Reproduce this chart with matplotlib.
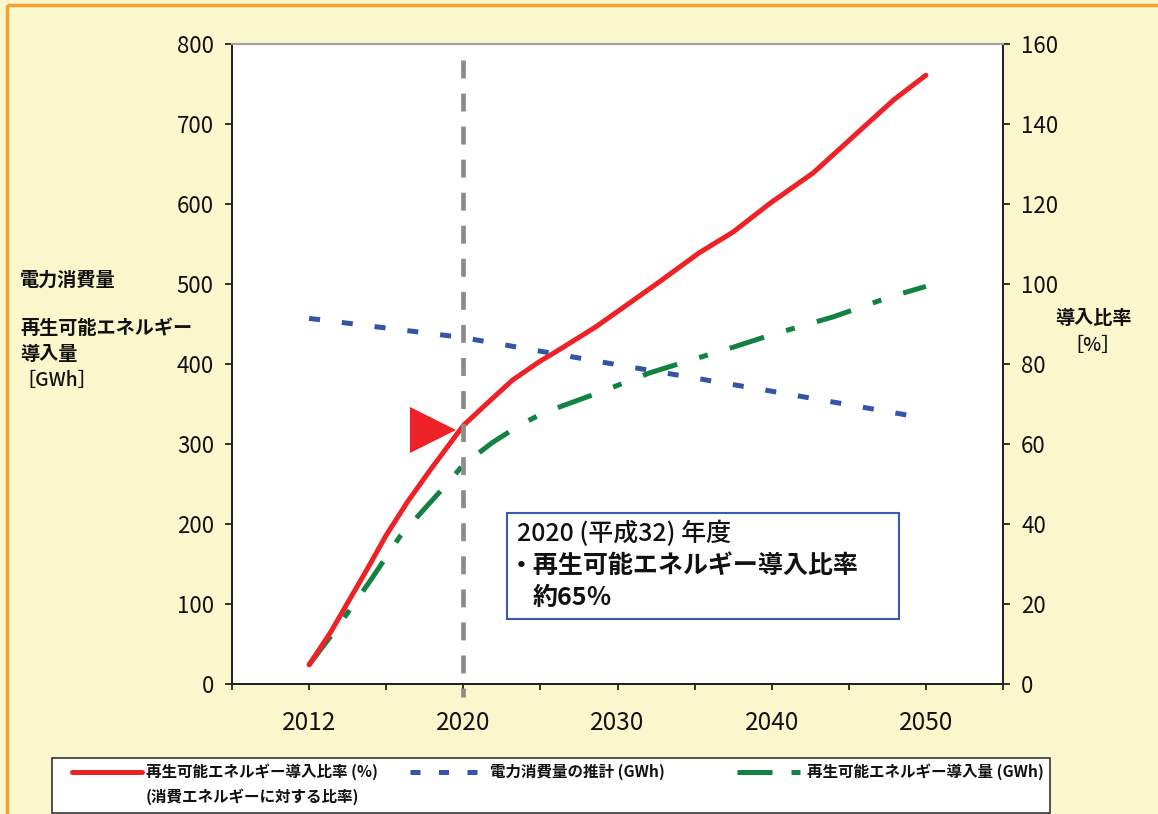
import numpy as np
import matplotlib
matplotlib.use('Agg')
import matplotlib.pyplot as plt
from matplotlib.patches import Rectangle
import matplotlib.transforms as mtransforms

plt.rcParams['font.family'] = ['Noto Sans CJK JP', 'DejaVu Sans']

# ---------------- data ----------------
label_years = [2012, 2020, 2030, 2040, 2050]
x_labels = ['2012', '2020', '2030', '2040', '2050']

ratio_years = [2012, 2013.1, 2014.0, 2015.0, 2016.0, 2017.1, 2018.3, 2020.0, 2021.3,
               2023.2, 2024.9, 2026.4, 2028.6, 2030.8, 2032.7, 2035.3, 2037.5,
               2039.9, 2042.7, 2044.9, 2047.9, 2050.0]
ratio_pct = [4.8, 12.8, 20.3, 28.6, 37.2, 45.5, 53.6, 64.6, 69.3,
             76.0, 80.5, 84.0, 89.3, 95.3, 100.5, 107.8, 113.0,
             120.2, 127.8, 135.5, 146.0, 152.2]

demand_years = [2012, 2020, 2030, 2040, 2050]
demand_gwh = [457, 433, 399, 366, 332]

renew_years = [2012, 2013.1, 2014, 2015.2, 2016.7, 2017.8, 2019, 2020, 2021.9, 2023.7,
               2025.2, 2028.9, 2032.1, 2034.1, 2037.5, 2039.9, 2044, 2047.7, 2050]
renew_gwh = [24, 59, 89, 130, 184, 214, 246, 274, 302, 324,
             339, 365, 389, 401, 421, 436, 459, 484, 497]

highlight_year = 2020
highlight_pct = 63.5
left_ticks = list(range(0, 801, 100))
right_ticks = list(range(0, 161, 20))

# ---------------- styling ----------------
W, H = 1158, 814
BG = '#FAF7CD'
RED = '#EE2226'
BLUE = '#3355A8'
GREEN = '#128240'
GRAY = '#8C8C8C'
TXT = '#111111'

fig = plt.figure(figsize=(W / 100, H / 100), dpi=100)
fig.patch.set_facecolor(BG)


def fx(x):
    return x / W


def fy(y):
    return 1 - y / H


ax = fig.add_axes([fx(232), fy(684), (1003 - 232) / W, (684 - 44) / H])
ax.set_facecolor('white')
ax2 = ax.twinx()


def pos(years):
    return np.interp(years, label_years, np.arange(len(label_years)))


ax.plot(pos(demand_years), demand_gwh, color=BLUE, lw=3.6, dashes=(2.2, 4.4),
        dash_capstyle='butt')
ax.plot(pos(renew_years), renew_gwh, color=GREEN, lw=3.6,
        dashes=(7.2, 4.6, 1.8, 4.6), dash_capstyle='butt')
ax2.plot(pos(ratio_years), ratio_pct, color=RED, lw=3.6, solid_capstyle='round',
         solid_joinstyle='round')

# triangle pointer
ax2.plot(pos(2018.45), highlight_pct, marker='>', ms=33, color=RED, mew=0,
         linestyle='none')

# vertical dashed line at 2020
trans = mtransforms.blended_transform_factory(ax2.transData, ax2.transAxes)
ax2.plot([pos(highlight_year), pos(highlight_year)], [0.975, -0.021], transform=trans,
         clip_on=False, color=GRAY, lw=3.4, dashes=(3.8, 3.2), dash_capstyle='butt')

ax.set_xlim(-0.5, 4.5)
ax.set_ylim(0, 800)
ax2.set_ylim(0, 160)

ax.set_xticks(range(len(x_labels)))
ax.set_xticklabels(x_labels)
ax.set_xticks(np.arange(-0.5, 4.6, 1), minor=True)
ax.tick_params(axis='x', which='both', direction='out', length=4.5, width=1.2,
               pad=14, labelsize=17.5, colors=TXT)
ax.set_yticks(left_ticks)
ax.tick_params(axis='y', direction='out', length=5, width=1.2, pad=8,
               labelsize=16, colors=TXT)
ax2.set_yticks(right_ticks)
ax2.tick_params(axis='y', direction='out', length=5, width=1.2, pad=8,
                labelsize=16, colors=TXT)

for a in (ax, ax2):
    for s in ('left', 'right', 'bottom'):
        a.spines[s].set_color('#222222')
        a.spines[s].set_linewidth(1.3)
    a.spines['top'].set_color('#A0A0A0')
    a.spines['top'].set_linewidth(1.5)

# ---------------- overlay in pixel coordinates ----------------
ov = fig.add_axes([0, 0, 1, 1], zorder=10)
ov.set_xlim(0, W)
ov.set_ylim(H, 0)
ov.axis('off')
ov.patch.set_alpha(0)

# orange page border
ov.add_patch(Rectangle((7, 5), 1400, 1000, fill=False, edgecolor='#F6A02E',
                       lw=2.5, clip_on=False))

# left axis title
kw = dict(ha='left', va='center', fontsize=13.8, fontweight='bold', color=TXT)
ov.text(20, 280, '電力消費量', **kw)
ov.text(20, 328, '再生可能エネルギー', **kw)
ov.text(20, 354, '導入量', **kw)
ov.text(16, 380, '［GWh］', ha='left', va='center', fontsize=13.8,
        fontweight='medium', color=TXT)

# right axis title
ov.text(1093, 319, '導入比率', ha='center', va='center', fontsize=13.8,
        fontweight='bold', color=TXT)
ov.text(1093, 345, '［%］', ha='center', va='center', fontsize=13.8,
        fontweight='medium', color=TXT)

# annotation box
ov.add_patch(Rectangle((507, 513), 392, 106, facecolor='white',
                       edgecolor='#3A5BB0', lw=1.5))
ov.text(517, 534, '2020 (平成32) 年度', ha='left', va='center', fontsize=18,
        fontweight='medium', color=TXT)
ov.text(509, 566, '・再生可能エネルギー導入比率', ha='left', va='center',
        fontsize=18, fontweight='bold', color=TXT)
ov.text(533, 598, '約65％', ha='left', va='center', fontsize=18,
        fontweight='bold', color=TXT)

# legend
ov.add_patch(Rectangle((52, 758), 998, 55, facecolor='white', edgecolor='#333333',
                       lw=1.2))
lkw = dict(ha='left', va='center', fontsize=11.2, fontweight='bold', color=TXT)
ov.plot([72, 142], [772, 772], color=RED, lw=3.6, solid_capstyle='round')
ov.text(146, 772, '再生可能エネルギー導入比率 (%)', **lkw)
ov.text(146, 797, '(消費エネルギーに対する比率)', **lkw)
ov.plot([410, 486], [772, 772], color=BLUE, lw=3.6, dashes=(2.0, 3.7),
        dash_capstyle='butt')
ov.text(490, 772, '電力消費量の推計 (GWh)', **lkw)
ov.plot([737, 800], [772, 772], color=GREEN, lw=3.6, dashes=(7.0, 3.8, 1.8, 3.8),
        dash_capstyle='butt')
ov.text(807, 772, '再生可能エネルギー導入量 (GWh)', **lkw)

fig.savefig('out.png', dpi=100, facecolor=BG)
